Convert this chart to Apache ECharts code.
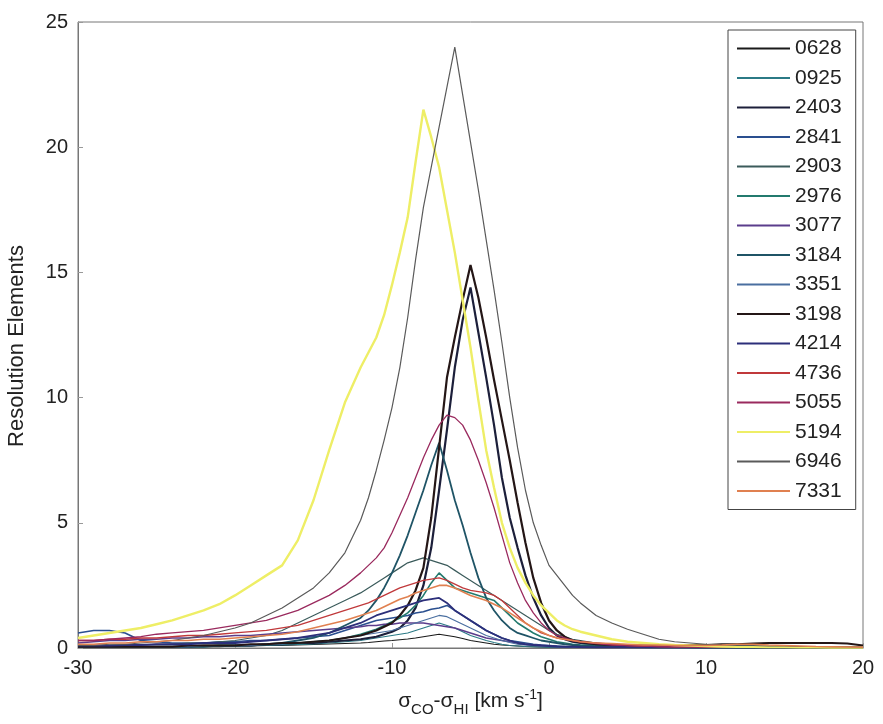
<!DOCTYPE html>
<html><head><meta charset="utf-8">
<script src="https://cdn.jsdelivr.net/npm/echarts@6/dist/echarts.min.js"></script>
<style>html,body{margin:0;padding:0;background:#fff}#c{width:883px;height:724px}</style>
</head><body><div id="c"></div>
<script>
// shared x grid (km/s)
const xs = [-30,-29,-28,-27,-26,-25,-24,-23,-22,-21,-20,-19,-18,-17,-16,-15,-14,-13,
  -12,-11.5,-11,-10.5,-10,-9.5,-9,-8.5,-8,-7.5,-7,-6.5,-6,-5.5,-5,-4.5,-4,-3.5,-3,-2.5,-2,-1.5,-1,-0.5,0,0.5,1,1.5,2,
  3,4,5,6,7,8,9,10,11,12,13,14,15,16,17,18,19,20];

const names = ['0628','0925','2403','2841','2903','2976','3077','3184','3351','3198','4214','4736','5055','5194','6946','7331'];

const v0628 = [0.05,0.05,0.05,0.05,0.05,0.05,0.05,0.05,0.05,0.05,0.08,0.08,0.1,0.1,0.12,0.14,0.16,0.18,
  0.2,0.22,0.25,0.28,0.3,0.33,0.36,0.4,0.45,0.5,0.55,0.5,0.45,0.38,0.3,0.25,0.2,0.15,0.12,0.1,0.08,0.06,0.05,0.04,0.03,0.03,0.02,0.02,0.02,
  0.02,0.02,0.02,0.02,0.02,0.02,0.02,0.02,0.02,0.02,0.02,0.02,0.02,0.02,0.02,0.02,0.02,0.02];
const v0925 = [0.05,0.05,0.05,0.05,0.05,0.05,0.05,0.05,0.05,0.08,0.08,0.1,0.1,0.12,0.14,0.16,0.2,0.25,
  0.3,0.35,0.4,0.45,0.5,0.55,0.6,0.7,0.8,0.9,1.0,0.9,0.8,0.65,0.5,0.4,0.3,0.22,0.15,0.1,0.08,0.06,0.05,0.04,0.03,0.03,0.02,0.02,0.02,
  0.02,0.02,0.02,0.02,0.02,0.02,0.02,0.02,0.02,0.02,0.02,0.02,0.02,0.02,0.02,0.02,0.02,0.02];
const v2403 = [0.05,0.05,0.05,0.05,0.05,0.05,0.05,0.05,0.1,0.1,0.1,0.1,0.15,0.15,0.2,0.2,0.25,0.3,
  0.35,0.4,0.45,0.55,0.65,0.8,1.1,1.6,2.5,4.0,6.3,8.7,11.2,13.1,14.4,12.6,10.8,8.9,6.8,5.2,4.0,2.9,2.0,1.3,0.8,0.5,0.35,0.25,0.2,
  0.12,0.08,0.05,0.05,0.05,0.04,0.04,0.03,0.03,0.03,0.03,0.02,0.02,0.02,0.02,0.02,0.02,0.02];
const v2841 = [0.6,0.7,0.7,0.6,0.3,0.25,0.2,0.2,0.2,0.25,0.25,0.3,0.3,0.35,0.4,0.45,0.5,0.7,
  0.9,1.0,1.1,1.15,1.2,1.25,1.3,1.4,1.45,1.55,1.6,1.7,1.5,1.3,1.1,0.9,0.7,0.55,0.4,0.3,0.25,0.2,0.15,0.12,0.1,0.08,0.06,0.05,0.05,
  0.04,0.03,0.03,0.02,0.02,0.02,0.02,0.02,0.02,0.02,0.02,0.02,0.02,0.02,0.02,0.02,0.02,0.02];
const v2903 = [0.1,0.1,0.1,0.12,0.12,0.15,0.15,0.2,0.2,0.25,0.3,0.4,0.5,0.7,1.0,1.3,1.6,1.9,
  2.2,2.4,2.6,2.8,3.0,3.2,3.4,3.5,3.6,3.5,3.4,3.3,3.1,2.9,2.7,2.5,2.3,2.1,1.9,1.7,1.5,1.3,1.1,0.9,0.7,0.55,0.45,0.35,0.3,
  0.2,0.15,0.1,0.08,0.06,0.05,0.05,0.04,0.04,0.03,0.03,0.03,0.03,0.03,0.03,0.03,0.03,0.03];
const v2976 = [0.05,0.05,0.05,0.05,0.05,0.05,0.05,0.08,0.08,0.1,0.1,0.12,0.15,0.15,0.2,0.25,0.3,0.4,
  0.55,0.65,0.75,0.9,1.05,1.2,1.4,1.7,2.1,2.6,3.0,2.7,2.4,2.3,2.2,2.1,2.0,1.9,1.6,1.3,1.0,0.8,0.6,0.45,0.35,0.25,0.2,0.15,0.12,
  0.1,0.08,0.06,0.05,0.04,0.03,0.03,0.02,0.02,0.02,0.02,0.02,0.02,0.02,0.02,0.02,0.02,0.02];
const v3077 = [0.2,0.25,0.3,0.3,0.35,0.35,0.4,0.4,0.45,0.45,0.5,0.5,0.55,0.6,0.65,0.7,0.75,0.8,
  0.85,0.9,0.9,0.95,0.95,1.0,1.0,1.0,1.0,0.95,0.9,0.85,0.8,0.7,0.6,0.5,0.4,0.35,0.3,0.25,0.2,0.15,0.12,0.1,0.08,0.06,0.05,0.04,0.04,
  0.03,0.03,0.03,0.03,0.03,0.03,0.03,0.03,0.03,0.03,0.03,0.03,0.03,0.03,0.03,0.03,0.03,0.03];
const v3184 = [0.05,0.05,0.05,0.05,0.05,0.05,0.05,0.05,0.05,0.1,0.1,0.1,0.15,0.2,0.3,0.4,0.6,0.9,
  1.2,1.5,1.9,2.4,3.0,3.7,4.5,5.4,6.3,7.3,8.2,7.1,5.9,4.9,3.8,2.8,2.0,1.5,1.1,0.8,0.6,0.5,0.4,0.3,0.25,0.2,0.15,0.12,0.1,
  0.08,0.06,0.05,0.04,0.03,0.03,0.02,0.02,0.02,0.02,0.02,0.02,0.02,0.02,0.02,0.02,0.02,0.02];
const v3351 = [0.05,0.05,0.05,0.05,0.05,0.05,0.05,0.05,0.1,0.1,0.1,0.1,0.15,0.15,0.2,0.25,0.3,0.4,
  0.5,0.55,0.6,0.65,0.7,0.8,0.9,1.0,1.1,1.2,1.3,1.25,1.1,0.95,0.8,0.65,0.5,0.4,0.3,0.22,0.15,0.12,0.1,0.08,0.06,0.05,0.04,0.04,0.03,
  0.02,0.02,0.02,0.02,0.02,0.02,0.02,0.02,0.02,0.02,0.02,0.02,0.02,0.02,0.02,0.02,0.02,0.02];
const v3198 = [0.05,0.05,0.05,0.05,0.05,0.05,0.05,0.1,0.1,0.1,0.1,0.15,0.15,0.2,0.2,0.25,0.3,0.4,
  0.5,0.6,0.7,0.85,1.0,1.3,1.7,2.3,3.2,5.2,8.0,10.8,12.4,13.9,15.3,14.0,12.4,10.7,9.1,7.5,5.8,4.2,2.8,1.8,1.1,0.7,0.45,0.3,0.25,
  0.15,0.12,0.1,0.1,0.1,0.1,0.12,0.12,0.15,0.15,0.18,0.2,0.2,0.2,0.2,0.2,0.18,0.1];
const v4214 = [0.1,0.1,0.1,0.12,0.12,0.15,0.15,0.15,0.2,0.2,0.2,0.25,0.3,0.35,0.4,0.5,0.6,0.8,
  1.0,1.15,1.3,1.4,1.5,1.6,1.7,1.8,1.9,1.95,2.0,1.8,1.5,1.3,1.1,0.9,0.7,0.55,0.4,0.3,0.2,0.15,0.12,0.1,0.08,0.06,0.05,0.05,0.04,
  0.03,0.03,0.03,0.03,0.03,0.03,0.03,0.03,0.03,0.03,0.03,0.03,0.03,0.03,0.03,0.03,0.03,0.03];
const v4736 = [0.3,0.3,0.35,0.35,0.4,0.4,0.45,0.5,0.5,0.55,0.6,0.65,0.7,0.8,0.9,1.1,1.3,1.5,
  1.7,1.8,1.95,2.1,2.25,2.4,2.5,2.6,2.7,2.75,2.8,2.7,2.55,2.4,2.3,2.25,2.2,2.1,1.9,1.6,1.3,1.0,0.8,0.6,0.5,0.4,0.35,0.3,0.25,
  0.2,0.15,0.1,0.08,0.06,0.05,0.05,0.04,0.04,0.03,0.03,0.03,0.03,0.03,0.03,0.03,0.03,0.03];
const v5055 = [0.3,0.3,0.35,0.4,0.45,0.55,0.6,0.65,0.7,0.8,0.9,1.0,1.1,1.3,1.5,1.8,2.1,2.5,
  3.0,3.3,3.6,4.0,4.6,5.3,6.0,6.8,7.6,8.3,8.9,9.3,9.2,8.9,8.3,7.5,6.6,5.6,4.5,3.4,2.6,1.9,1.4,1.0,0.7,0.5,0.4,0.3,0.25,
  0.18,0.12,0.1,0.08,0.06,0.05,0.05,0.04,0.04,0.03,0.03,0.03,0.03,0.03,0.03,0.03,0.03,0.03];
const v5194 = [0.4,0.5,0.6,0.7,0.8,0.95,1.1,1.3,1.5,1.75,2.1,2.5,2.9,3.3,4.3,5.9,7.9,9.8,
  11.2,11.8,12.4,13.3,14.5,15.8,17.2,19.4,21.5,20.4,19.2,17.5,15.8,13.9,12.0,9.9,7.9,6.4,5.0,4.0,3.2,2.6,2.1,1.7,1.4,1.1,0.9,0.75,0.65,
  0.5,0.35,0.25,0.2,0.15,0.12,0.1,0.08,0.06,0.05,0.05,0.04,0.04,0.03,0.03,0.02,0.02,0.02];
const v6946 = [0.1,0.1,0.15,0.15,0.2,0.25,0.3,0.4,0.5,0.65,0.8,1.0,1.3,1.6,2.0,2.4,3.0,3.8,
  5.1,6.0,7.1,8.3,9.6,11.2,13.2,15.5,17.6,19.2,20.8,22.4,24.0,22.1,20.2,18.3,16.3,14.3,12.2,10.0,8.0,6.3,5.0,4.1,3.3,2.9,2.5,2.1,1.8,
  1.3,1.0,0.75,0.55,0.35,0.25,0.2,0.15,0.12,0.1,0.1,0.08,0.08,0.06,0.06,0.05,0.05,0.04];
const v7331 = [0.15,0.15,0.2,0.2,0.25,0.25,0.3,0.3,0.35,0.35,0.4,0.45,0.5,0.55,0.65,0.8,0.95,1.1,
  1.3,1.4,1.5,1.65,1.8,1.95,2.05,2.2,2.3,2.4,2.5,2.5,2.4,2.25,2.1,2.0,1.9,1.75,1.6,1.4,1.2,1.0,0.8,0.65,0.5,0.4,0.35,0.3,0.25,
  0.2,0.18,0.15,0.12,0.12,0.1,0.1,0.1,0.12,0.15,0.15,0.12,0.1,0.08,0.06,0.05,0.04,0.03];

const values = [v0628,v0925,v2403,v2841,v2903,v2976,v3077,v3184,v3351,v3198,v4214,v4736,v5055,v5194,v6946,v7331];
const colors = ['#1a1a1a','#2b7a86','#1c1f3a','#2a4f8f','#3b5b5b','#237a6e','#5b3d8c','#1f5466','#4a6fa0','#241616','#2c2f7a','#c0393b','#9a2a5e','#eeee66','#5a5a5a','#e08050'];
const widths = [1.2,1.2,2.2,1.6,1.2,1.6,1.6,1.8,1.2,2.2,1.8,1.3,1.3,2.4,1.2,1.6];

const FONT = 'Liberation Sans';
const chart = echarts.init(document.getElementById('c'));
chart.setOption({
  backgroundColor: '#ffffff',
  animation: false,
  textStyle: {fontFamily: FONT},
  grid: {left: 78, right: 20, top: 22, bottom: 76, containLabel: false, outerBoundsMode: 'none',
    show: true, borderColor: '#777', borderWidth: 1, backgroundColor: 'transparent'},
  legend: {
    orient: 'vertical', left: 728, top: 30,
    data: names,
    icon: 'rect',
    itemWidth: 53, itemHeight: 2, itemGap: 8.5,
    padding: [8, 14, 8, 9],
    backgroundColor: '#fff', borderColor: '#444', borderWidth: 1,
    textStyle: {fontSize: 21, color: '#222', fontFamily: FONT}
  },
  xAxis: {
    type: 'value', min: -30, max: 20, interval: 10,
    axisLine: {show: true, onZero: false, lineStyle: {color: '#777'}},
    axisTick: {show: true, inside: true, length: 5, lineStyle: {color: '#999'}},
    splitLine: {show: false},
    axisLabel: {fontSize: 20, color: '#222', margin: 10, fontFamily: FONT},
    name: '{s|σ}{sub|CO}{s|-σ}{sub|HI}{s| [km s}{sup|-1}{s|]}',
    nameLocation: 'middle', nameGap: 38,
    nameTextStyle: {
      fontFamily: FONT, color: '#222',
      rich: {
        s: {fontSize: 21, fontFamily: FONT, color: '#222'},
        sub: {fontSize: 15, padding: [16, 0, 0, 0], fontFamily: FONT, color: '#222'},
        sup: {fontSize: 14, padding: [0, 0, 12, 0], fontFamily: FONT, color: '#222'}
      }
    }
  },
  yAxis: {
    type: 'value', min: 0, max: 25, interval: 5,
    axisLine: {show: true, onZero: false, lineStyle: {color: '#777'}},
    axisTick: {show: true, inside: true, length: 5, lineStyle: {color: '#999'}},
    splitLine: {show: false},
    axisLabel: {fontSize: 20, color: '#222', margin: 10, fontFamily: FONT},
    name: 'Resolution Elements', nameLocation: 'middle', nameGap: 50, nameRotate: 90,
    nameTextStyle: {fontSize: 22, color: '#222', fontFamily: FONT, padding: [0, 22, 0, 0]}
  },
  series: names.map((n, i) => ({
    name: n, type: 'line', symbol: 'none', smooth: false,
    data: xs.map((x, k) => [x, values[i][k]]),
    lineStyle: {color: colors[i], width: widths[i]},
    itemStyle: {color: colors[i]},
    z: 2
  }))
});
</script></body></html>
